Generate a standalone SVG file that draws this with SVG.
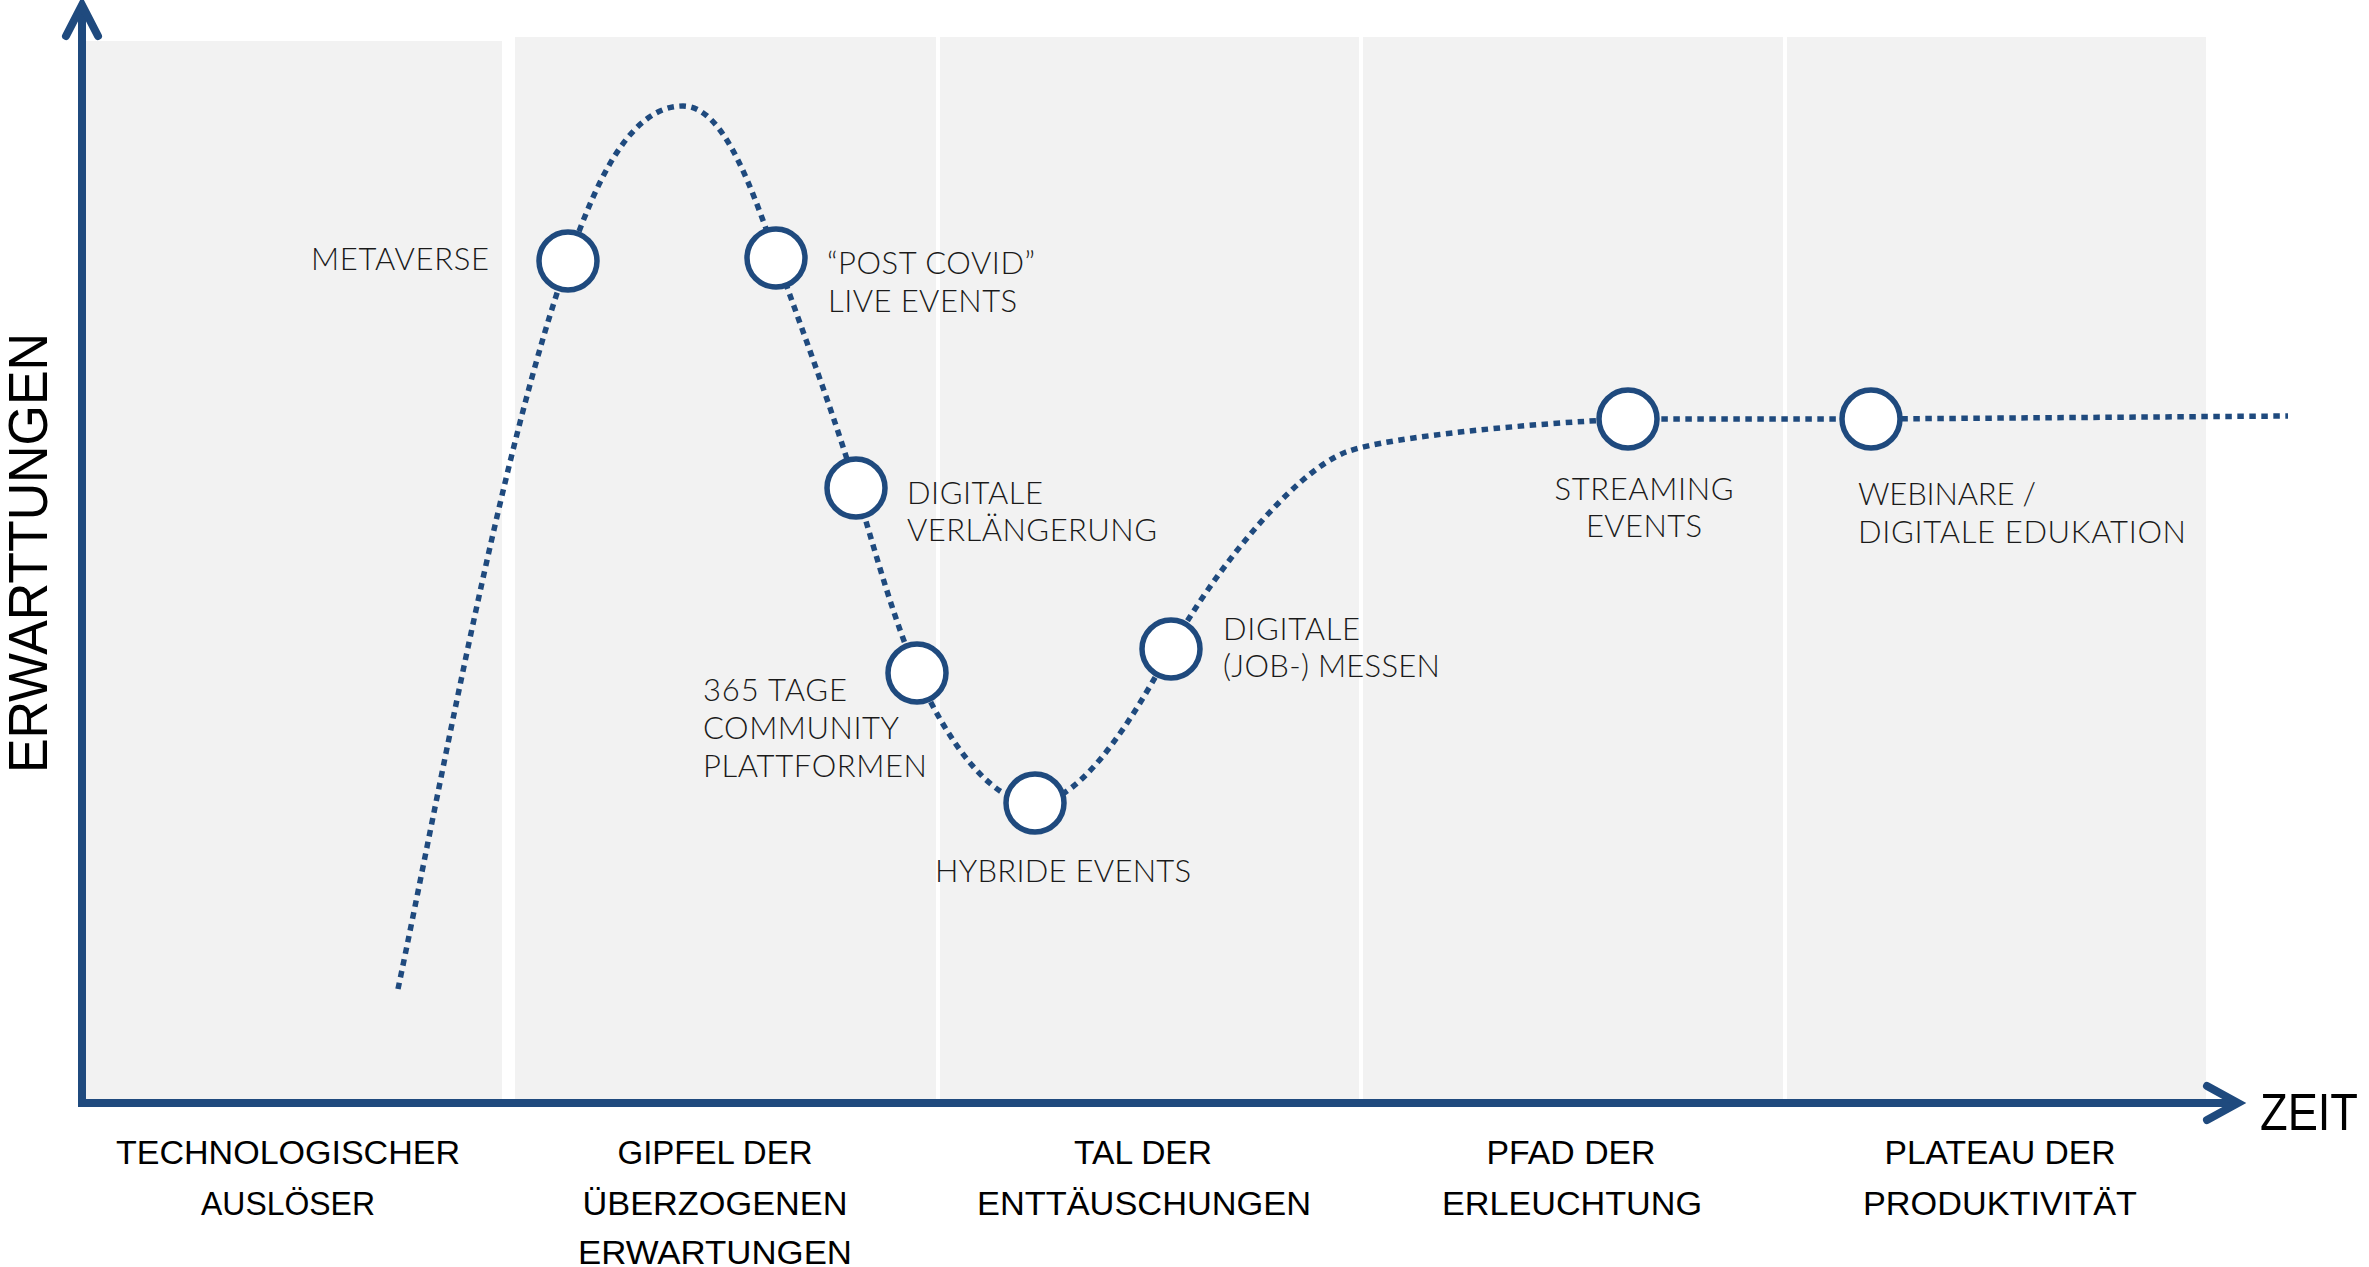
<svg xmlns="http://www.w3.org/2000/svg" width="2369" height="1267" viewBox="0 0 2369 1267">
<style>
.panel{fill:#F2F2F2}
.axis{stroke:#1F4A7E;stroke-width:8;fill:none}
.head{stroke:#1F4A7E;stroke-width:8;fill:none;stroke-linecap:round;stroke-linejoin:miter}
.curve{stroke:#1F4A7E;stroke-width:5.5;fill:none;stroke-dasharray:6.5 5.5}
.node circle{fill:#FFFFFF;stroke:#1F4A7E;stroke-width:5.5}
.lbl{font-family:Lato,"Open Sans","Liberation Sans",sans-serif;font-weight:300;font-size:31px;fill:#1A1A1A}
.ph{font-family:"Liberation Sans",Arial,sans-serif;font-size:34px;fill:#000;text-anchor:middle}
.ax{font-family:"Liberation Sans",Arial,sans-serif;fill:#000}
</style>
<g id="panels">
<rect class="panel" x="82" y="41" width="420" height="1062"/>
<rect class="panel" x="515" y="37" width="421" height="1066"/>
<rect class="panel" x="940" y="37" width="419" height="1066"/>
<rect class="panel" x="1363" y="37" width="420" height="1066"/>
<rect class="panel" x="1787" y="37" width="419" height="1066"/>
</g>
<g id="axes">
<line class="axis" x1="82" y1="1107" x2="82" y2="8"/>
<polyline class="head" points="66,36 82,5 98,36"/>
<line class="axis" x1="78" y1="1103" x2="2233" y2="1103"/>
<polyline class="head" points="2207,1086 2238,1103 2207,1120"/>
<text class="ax" font-size="56" textLength="440" lengthAdjust="spacingAndGlyphs" transform="translate(47,773) rotate(-90)">ERWARTTUNGEN</text>
<text class="ax" x="2260" y="1130" font-size="52" textLength="98" lengthAdjust="spacingAndGlyphs">ZEIT</text>
</g>
<g id="phases">
<text class="ph" x="288" y="1164" textLength="344" lengthAdjust="spacingAndGlyphs">TECHNOLOGISCHER</text>
<text class="ph" x="288" y="1215" textLength="174" lengthAdjust="spacingAndGlyphs">AUSLÖSER</text>
<text class="ph" x="715" y="1164" textLength="195" lengthAdjust="spacingAndGlyphs">GIPFEL DER</text>
<text class="ph" x="715" y="1215" textLength="265" lengthAdjust="spacingAndGlyphs">ÜBERZOGENEN</text>
<text class="ph" x="715" y="1264" textLength="274" lengthAdjust="spacingAndGlyphs">ERWARTUNGEN</text>
<text class="ph" x="1143" y="1164" textLength="138" lengthAdjust="spacingAndGlyphs">TAL DER</text>
<text class="ph" x="1144" y="1215" textLength="334" lengthAdjust="spacingAndGlyphs">ENTTÄUSCHUNGEN</text>
<text class="ph" x="1571" y="1164" textLength="169" lengthAdjust="spacingAndGlyphs">PFAD DER</text>
<text class="ph" x="1572" y="1215" textLength="260" lengthAdjust="spacingAndGlyphs">ERLEUCHTUNG</text>
<text class="ph" x="2000" y="1164" textLength="231" lengthAdjust="spacingAndGlyphs">PLATEAU DER</text>
<text class="ph" x="2000" y="1215" textLength="274" lengthAdjust="spacingAndGlyphs">PRODUKTIVITÄT</text>
</g>
<g id="connectors">
<path class="curve" d="M398,989 C440,790 502,445 568,261 C589,204 623,106 683,106 C725,106 753,193 777,259 C804,335 833,412 856,488 C875,550 891,612 917,674 C947,740 990,803 1035,803 C1085,803 1142,702 1171,649 C1209,579 1290,474 1346,452 C1390,436 1538,423 1628,419 L1871,419 L2288,416"/>
</g>
<g id="node-metaverse" class="node">
<circle cx="568" cy="261" r="29"/>
<text class="lbl" x="311" y="270" textLength="178">METAVERSE</text>
</g>
<g id="node-post-covid" class="node">
<circle cx="776" cy="258" r="29"/>
<text class="lbl" x="827" y="274" textLength="208">“POST COVID”</text>
<text class="lbl" x="828" y="312" textLength="189">LIVE EVENTS</text>
</g>
<g id="node-digitale-verlaengerung" class="node">
<circle cx="856" cy="488" r="29"/>
<text class="lbl" x="907" y="504" textLength="136">DIGITALE</text>
<text class="lbl" x="907" y="541" textLength="250">VERLÄNGERUNG</text>
</g>
<g id="node-365-tage" class="node">
<circle cx="917" cy="673" r="29"/>
<text class="lbl" x="703" y="701" textLength="144">365 TAGE</text>
<text class="lbl" x="703" y="739" textLength="196">COMMUNITY</text>
<text class="lbl" x="703" y="777" textLength="224">PLATTFORMEN</text>
</g>
<g id="node-hybride" class="node">
<circle cx="1035" cy="803" r="29"/>
<text class="lbl" x="935" y="882" textLength="256">HYBRIDE EVENTS</text>
</g>
<g id="node-job-messen" class="node">
<circle cx="1171" cy="649" r="29"/>
<text class="lbl" x="1223" y="640" textLength="137">DIGITALE</text>
<text class="lbl" x="1223" y="677" textLength="217">(JOB-) MESSEN</text>
</g>
<g id="node-streaming" class="node">
<circle cx="1628" cy="419" r="29"/>
<text class="lbl" x="1644" y="500" text-anchor="middle" textLength="179">STREAMING</text>
<text class="lbl" x="1644" y="537" text-anchor="middle" textLength="116">EVENTS</text>
</g>
<g id="node-webinare" class="node">
<circle cx="1871" cy="419" r="29"/>
<text class="lbl" x="1858" y="505" textLength="178">WEBINARE /</text>
<text class="lbl" x="1858" y="543" textLength="328">DIGITALE EDUKATION</text>
</g>
</svg>
